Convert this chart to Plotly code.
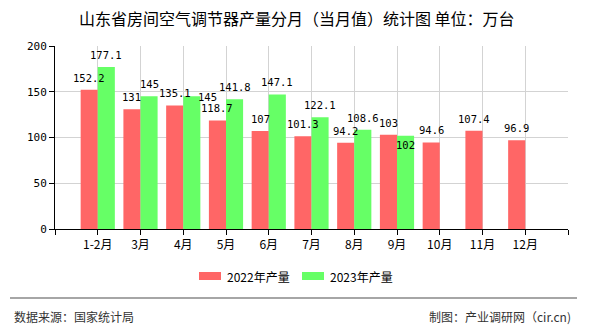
import plotly.graph_objects as go

# ---------------- data ----------------
months = ["1-2月", "3月", "4月", "5月", "6月", "7月", "8月", "9月", "10月", "11月", "12月"]
prod_2022 = [152.2, 131, 135.1, 118.7, 107, 101.3, 94.2, 103, 94.6, 107.4, 96.9]
prod_2023 = [177.1, 145, 145, 141.8, 147.1, 122.1, 108.6, 102]
series_names = ["2022年产量", "2023年产量"]
y_ticks = [0, 50, 100, 150, 200]
title_text = "山东省房间空气调节器产量分月（当月值）统计图 单位：万台"
source_text = "数据来源：国家统计局"
credit_text = "制图：产业调研网（cir.cn)"

# ---------------- style ----------------
W, H = 590, 330
L, R, T, B = 55, 568, 46, 229  # plot area in pixels
RED = "#FF6666"
GREEN = "#66FF66"
CJK = "Noto Sans CJK SC"
NUM = "DejaVu Sans Mono"


def px_x(px):
    return (px - L) / (R - L)


def px_y(py):
    return (B - py) / (B - T)


fig = go.Figure()
idx22 = list(range(len(prod_2022)))
idx23 = list(range(len(prod_2023)))
fig.add_trace(go.Bar(x=idx22, y=prod_2022, name=series_names[0], marker_color=RED,
                     marker_line_width=0, hoverinfo="y"))
fig.add_trace(go.Bar(x=idx23, y=prod_2023, name=series_names[1], marker_color=GREEN,
                     marker_line_width=0, hoverinfo="y"))

annotations = []
# label shifts (pixels) for labels moved by overlap avoidance in the source
shift_2023 = {2: (16, -13), 7: (0, -21)}
for i, v in enumerate(prod_2022):
    annotations.append(dict(x=i - 0.2, y=v, xref="x", yref="y", text=f"{v:g}",
                            showarrow=False, yanchor="bottom", yshift=4,
                            font=dict(family=NUM, size=10.5, color="#000")))
for i, v in enumerate(prod_2023):
    dx, dy = shift_2023.get(i, (0, 0))
    annotations.append(dict(x=i + 0.2, y=v, xref="x", yref="y", text=f"{v:g}",
                            showarrow=False, yanchor="bottom", yshift=4 + dy, xshift=dx,
                            font=dict(family=NUM, size=10.5, color="#000")))

# title
annotations.append(dict(x=px_x(297), y=px_y(18), xref="paper", yref="paper", text=title_text,
                        showarrow=False, xanchor="center", yanchor="middle",
                        font=dict(family=CJK, size=16, color="#000")))
# custom legend
shapes = []
legend_items = [(199, RED, series_names[0]), (302, GREEN, series_names[1])]
for x0, col, name in legend_items:
    shapes.append(dict(type="rect", xref="paper", yref="paper",
                       x0=px_x(x0), x1=px_x(x0 + 22), y0=px_y(280), y1=px_y(272),
                       fillcolor=col, line_width=0))
    annotations.append(dict(x=px_x(x0 + 26), y=px_y(276), xref="paper", yref="paper",
                            text=name, showarrow=False, xanchor="left", yanchor="middle",
                            font=dict(family=CJK, size=12, color="#000")))
# separator + footer
shapes.append(dict(type="line", xref="paper", yref="paper", x0=px_x(10), x1=px_x(577),
                   y0=px_y(298), y1=px_y(298), line=dict(color="#888888", width=1.5)))
annotations.append(dict(x=px_x(12), y=px_y(316), xref="paper", yref="paper", text=source_text,
                        showarrow=False, xanchor="left", yanchor="middle",
                        font=dict(family=CJK, size=12, color="#333")))
annotations.append(dict(x=px_x(573), y=px_y(316), xref="paper", yref="paper", text=credit_text,
                        showarrow=False, xanchor="right", yanchor="middle",
                        font=dict(family=CJK, size=12, color="#333")))

tickvals = list(range(-1, len(months) + 1))
ticktext = [""] + months + [""]

fig.update_layout(
    width=W, height=H,
    margin=dict(l=L, r=W - R, t=T, b=H - B),
    paper_bgcolor="white", plot_bgcolor="white",
    barmode="group", bargap=0.2, bargroupgap=0,
    showlegend=False,
    annotations=annotations, shapes=shapes,
    xaxis=dict(range=[-1, len(months)], tickmode="array", tickvals=tickvals, ticktext=ticktext,
               showgrid=True, gridcolor="#D3D3D3", gridwidth=1,
               showline=True, linecolor="#000", linewidth=1,
               ticks="outside", ticklen=5, tickcolor="#000",
               tickfont=dict(family=CJK, size=12, color="#000"), zeroline=False),
    yaxis=dict(range=[0, 200], tickmode="array", tickvals=y_ticks,
               showgrid=True, gridcolor="#D3D3D3", gridwidth=1,
               showline=True, linecolor="#000", linewidth=1,
               ticks="outside", ticklen=5, tickcolor="#000",
               tickfont=dict(family=NUM, size=11, color="#000"), zeroline=False),
)

fig.write_html("out.html")
